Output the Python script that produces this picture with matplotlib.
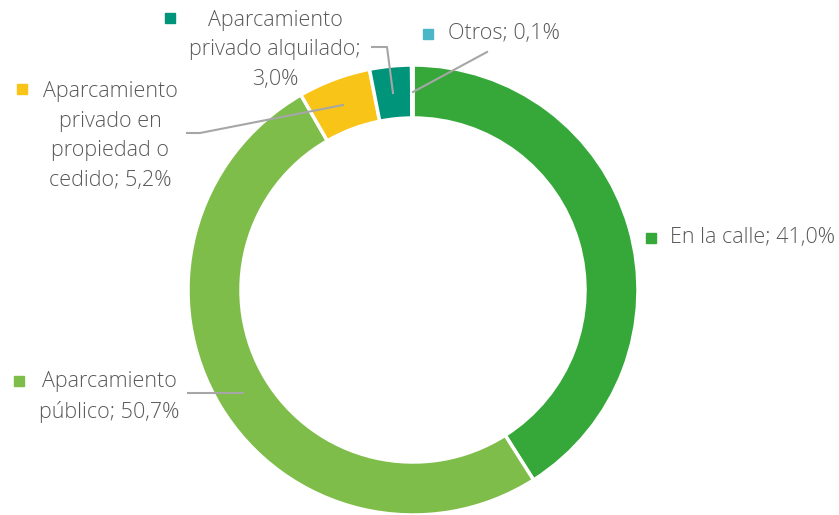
import matplotlib.pyplot as plt

# data
categories = ["En la calle", "Aparcamiento público",
              "Aparcamiento privado en propiedad o cedido",
              "Aparcamiento privado alquilado", "Otros"]
values = [41.0, 50.7, 5.2, 3.0, 0.1]
value_labels = ["41,0%", "50,7%", "5,2%", "3,0%", "0,1%"]
colors = ["#36A83A", "#7FBD4A", "#F9C418", "#00957A", "#4BB7C6"]

W, H = 839, 515
fig = plt.figure(figsize=(W / 100, H / 100), dpi=100)
ax = fig.add_axes([0, 0, 1, 1])

ax.pie(values, colors=colors, startangle=90, counterclock=False,
       center=(413, H - 290), radius=225,
       wedgeprops=dict(width=53, edgecolor="white", linewidth=2.5))

# pie() resets the limits, so set them afterwards
ax.set_xlim(0, W)
ax.set_ylim(0, H)
ax.set_aspect("equal")
ax.axis("off")

txt = dict(fontsize=15.5, color="#595959", family=["Open Sans", "DejaVu Sans"],
           fontweight="light", linespacing=1.55)
line_c = "#A6A6A6"

def py(y):
    return H - y

# label texts (pixel positions from top-left)
ax.text(275, py(50), "Aparcamiento\nprivado alquilado;\n" + value_labels[3],
        ha="center", va="center", **txt)
ax.plot(170, py(18), "s", color=colors[3], ms=7)
ax.plot([372, 387, 393], [py(47), py(47), py(93)], color=line_c, lw=1.5)

ax.text(448, py(34), "Otros; " + value_labels[4], ha="left", va="center", **txt)
ax.plot(428, py(34), "s", color=colors[4], ms=7)
ax.plot([487, 413], [py(52), py(92)], color=line_c, lw=1.5)

ax.text(110, py(136), "Aparcamiento\nprivado en\npropiedad o\ncedido; " + value_labels[2],
        ha="center", va="center", **txt)
ax.plot(22, py(89), "s", color=colors[2], ms=7)
ax.plot([187, 200, 343], [py(133), py(133), py(105)], color=line_c, lw=1.5)

ax.text(109, py(397), "Aparcamiento\npúblico; " + value_labels[1],
        ha="center", va="center", **txt)
ax.plot(19, py(381), "s", color=colors[1], ms=7)
ax.plot([188, 243], [py(393), py(393)], color=line_c, lw=1.5)

ax.text(670, py(238), "En la calle; " + value_labels[0], ha="left", va="center", **txt)
ax.plot(651, py(238), "s", color=colors[0], ms=7)

fig.savefig("out.png", dpi=100)
